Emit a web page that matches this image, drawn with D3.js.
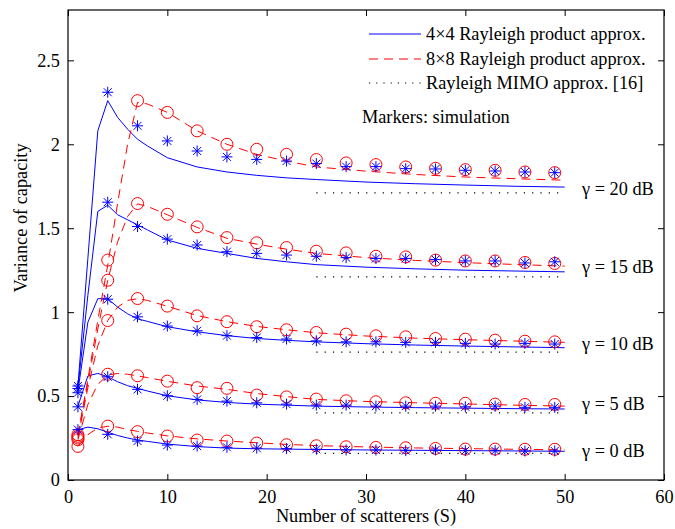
<!DOCTYPE html>
<html>
<head>
<meta charset="utf-8">
<script src="https://cdn.jsdelivr.net/npm/d3@7"></script>
<style>
  html, body { margin: 0; padding: 0; background: #fff; }
  svg { display: block; }
</style>
</head>
<body>
<svg id="chart" width="675" height="529"></svg>
<script>
// ---------------- data ----------------
const xTicks = [0, 10, 20, 30, 40, 50, 60];
const yTicks = [0, 0.5, 1, 1.5, 2, 2.5];
const yTickLabels = ["0", "0.5", "1", "1.5", "2", "2.5"];
const gammaLabels = ["γ = 0 dB", "γ = 5 dB", "γ = 10 dB", "γ = 15 dB", "γ = 20 dB"];

// S grid for analytic curves
const sLine = [1, 2, 3, 4, 5, 6, 7, 8, 10, 13, 16, 19, 22, 25, 30, 35, 40, 45, 50];
// 4x4 Rayleigh product approx (blue solid)
const blue0  = [0.30, 0.315, 0.305, 0.285, 0.265, 0.25, 0.238, 0.23, 0.214, 0.199, 0.19, 0.186, 0.184, 0.182, 0.179, 0.177, 0.175, 0.173, 0.171];
const blue5  = [0.44, 0.62, 0.635, 0.615, 0.585, 0.562, 0.546, 0.53, 0.502, 0.477, 0.462, 0.452, 0.446, 0.44, 0.435, 0.431, 0.428, 0.425, 0.423];
const blue10 = [0.53, 0.94, 1.08, 1.08, 1.03, 0.99, 0.96, 0.945, 0.913, 0.883, 0.86, 0.843, 0.832, 0.823, 0.812, 0.804, 0.798, 0.793, 0.788];
const blue15 = [0.55, 1.10, 1.60, 1.637, 1.58, 1.55, 1.52, 1.49, 1.43, 1.38, 1.35, 1.32, 1.30, 1.283, 1.268, 1.258, 1.25, 1.245, 1.24];
const blue20 = [0.56, 1.32, 2.08, 2.26, 2.16, 2.09, 2.03, 1.99, 1.92, 1.865, 1.835, 1.815, 1.80, 1.79, 1.775, 1.765, 1.757, 1.75, 1.745];
// 8x8 Rayleigh product approx (red dashed)
const red0  = [0.20, 0.27, 0.31, 0.32, 0.315, 0.30, 0.29, 0.28, 0.263, 0.245, 0.232, 0.222, 0.212, 0.205, 0.197, 0.191, 0.187, 0.183, 0.18];
const red5  = [0.24, 0.45, 0.57, 0.625, 0.635, 0.63, 0.62, 0.61, 0.588, 0.56, 0.54, 0.515, 0.497, 0.48, 0.468, 0.46, 0.453, 0.446, 0.44];
const red10 = [0.25, 0.55, 0.80, 0.95, 1.03, 1.07, 1.08, 1.07, 1.035, 0.98, 0.943, 0.915, 0.895, 0.877, 0.858, 0.845, 0.836, 0.828, 0.82];
const red15 = [0.26, 0.58, 0.90, 1.19, 1.42, 1.57, 1.645, 1.63, 1.58, 1.505, 1.44, 1.405, 1.375, 1.35, 1.325, 1.308, 1.295, 1.284, 1.274];
const red20 = [0.27, 0.60, 0.95, 1.28, 1.65, 2.00, 2.25, 2.24, 2.19, 2.08, 2.00, 1.94, 1.90, 1.865, 1.84, 1.82, 1.805, 1.795, 1.786];
// Rayleigh MIMO approx [16] (black dotted, S = 25..50)
const sMimo = [25, 50];
const mimoLevels = [0.159, 0.40, 0.762, 1.21, 1.71];

// simulation markers
const sMark = [1, 4, 7, 10, 13, 16, 19, 22, 25, 28, 31, 34, 37, 40, 43, 46, 49];
const star0  = [0.30, 0.272, 0.232, 0.208, 0.202, 0.195, 0.19, 0.187, 0.183, 0.179, 0.179, 0.175, 0.179, 0.175, 0.175, 0.173, 0.173];
const star5  = [0.436, 0.615, 0.54, 0.502, 0.48, 0.47, 0.46, 0.452, 0.446, 0.446, 0.44, 0.44, 0.44, 0.436, 0.44, 0.433, 0.433];
const star10 = [0.52, 1.077, 0.972, 0.917, 0.889, 0.86, 0.849, 0.84, 0.829, 0.823, 0.823, 0.82, 0.82, 0.814, 0.81, 0.814, 0.81];
const star15 = [0.545, 1.655, 1.51, 1.435, 1.40, 1.36, 1.35, 1.34, 1.333, 1.325, 1.32, 1.32, 1.313, 1.305, 1.305, 1.293, 1.30];
const star20 = [0.56, 2.31, 2.11, 2.02, 1.96, 1.925, 1.91, 1.90, 1.885, 1.867, 1.867, 1.855, 1.853, 1.845, 1.841, 1.835, 1.831];
const circ0  = [0.20, 0.321, 0.288, 0.262, 0.238, 0.232, 0.22, 0.21, 0.204, 0.198, 0.194, 0.192, 0.188, 0.184, 0.184, 0.183, 0.183];
const circ5  = [0.24, 0.63, 0.621, 0.589, 0.55, 0.546, 0.506, 0.495, 0.482, 0.472, 0.466, 0.46, 0.457, 0.457, 0.452, 0.45, 0.45];
const circ10 = [0.25, 0.95, 1.081, 1.036, 0.978, 0.943, 0.913, 0.895, 0.879, 0.869, 0.859, 0.853, 0.843, 0.839, 0.833, 0.827, 0.823];
const circ15 = [0.26, 1.19, 1.647, 1.583, 1.508, 1.444, 1.413, 1.385, 1.363, 1.353, 1.333, 1.329, 1.31, 1.305, 1.305, 1.296, 1.29];
const circ20 = [0.27, 1.31, 2.26, 2.19, 2.08, 2.00, 1.97, 1.94, 1.909, 1.889, 1.879, 1.865, 1.857, 1.849, 1.845, 1.835, 1.831];

const legendLabels = ["4×4 Rayleigh product approx.", "8×8 Rayleigh product approx.", "Rayleigh MIMO approx. [16]"];
const noteText = "Markers: simulation";
const xTitle = "Number of scatterers (S)";
const yTitle = "Variance of capacity";

// ---------------- drawing ----------------
const svg = d3.select("#chart");
const L = 68, R = 664, T = 10, B = 480;
const x = d3.scaleLinear().domain([0, 60]).range([L, R]);
const y = d3.scaleLinear().domain([0, 2.8]).range([B, T]);
const FS = 18.3;
const FONT = "'Liberation Serif'";

const blueSets = [blue0, blue5, blue10, blue15, blue20];
const redSets = [red0, red5, red10, red15, red20];
const starSets = [star0, star5, star10, star15, star20];
const circSets = [circ0, circ5, circ10, circ15, circ20];

const line = d3.line().x(d => x(d[0])).y(d => y(d[1]));

const gPlot = svg.append("g");
blueSets.forEach(vals => {
  gPlot.append("path").attr("d", line(sLine.map((s, i) => [s, vals[i]])))
    .attr("fill", "none").attr("stroke", "#0000ff").attr("stroke-width", 1);
});
redSets.forEach(vals => {
  gPlot.append("path").attr("d", line(sLine.map((s, i) => [s, vals[i]])))
    .attr("fill", "none").attr("stroke", "#ff0000").attr("stroke-width", 1)
    .attr("stroke-dasharray", "9,6");
});
mimoLevels.forEach(v => {
  gPlot.append("path").attr("d", line(sMimo.map(s => [s, v])))
    .attr("fill", "none").attr("stroke", "#000").attr("stroke-width", 1.2)
    .attr("stroke-dasharray", "1.2,7.1");
});
circSets.forEach(vals => {
  gPlot.selectAll(null).data(sMark.map((s, i) => [s, vals[i]])).enter()
    .append("circle").attr("cx", d => x(d[0])).attr("cy", d => y(d[1])).attr("r", 6)
    .attr("fill", "none").attr("stroke", "#ff0000").attr("stroke-width", 1);
});
const starPath = (cx, cy) => {
  const r = 5.5, q = 4;
  return `M${cx - r},${cy}L${cx + r},${cy}M${cx},${cy - r}L${cx},${cy + r}` +
         `M${cx - q},${cy - q}L${cx + q},${cy + q}M${cx - q},${cy + q}L${cx + q},${cy - q}`;
};
starSets.forEach(vals => {
  gPlot.selectAll(null).data(sMark.map((s, i) => [s, vals[i]])).enter()
    .append("path").attr("d", d => starPath(x(d[0]), y(d[1])))
    .attr("fill", "none").attr("stroke", "#0000ff").attr("stroke-width", 1);
});

// axes with inward ticks on all sides
const tickLen = 6;
const axB = svg.append("g").attr("transform", `translate(0,${B})`)
  .call(d3.axisBottom(x).tickValues(xTicks).tickSize(-tickLen).tickPadding(10).tickFormat(d3.format("d")));
const axT = svg.append("g").attr("transform", `translate(0,${T})`)
  .call(d3.axisTop(x).tickValues(xTicks).tickSize(-tickLen).tickFormat(""));
const axL = svg.append("g").attr("transform", `translate(${L},0)`)
  .call(d3.axisLeft(y).tickValues(yTicks).tickSize(-tickLen).tickPadding(8).tickFormat((d, i) => yTickLabels[i]));
const axR = svg.append("g").attr("transform", `translate(${R},0)`)
  .call(d3.axisRight(y).tickValues(yTicks).tickSize(-tickLen).tickFormat(""));
[axB, axT, axL, axR].forEach(a => {
  a.select(".domain").remove();
  a.selectAll(".tick line").attr("stroke", "#000").attr("stroke-width", 1);
  a.selectAll("text").attr("font-size", FS).style("font-family", FONT).attr("fill", "#000");
});
svg.append("rect").attr("x", L).attr("y", T).attr("width", R - L).attr("height", B - T)
  .attr("fill", "none").attr("stroke", "#000").attr("stroke-width", 1.2);

// axis titles
svg.append("text").attr("x", (L + R) / 2).attr("y", 522).attr("text-anchor", "middle")
  .attr("font-size", FS).style("font-family", FONT).text(xTitle);
svg.append("text").attr("transform", `translate(27,${(T + B) / 2 - 27}) rotate(-90)`)
  .attr("text-anchor", "middle").attr("font-size", FS).style("font-family", FONT).text(yTitle);

// gamma labels
const gammaY = [451, 404, 344, 267, 189];
gammaLabels.forEach((t, i) => {
  svg.append("text").attr("x", 582).attr("y", gammaY[i]).attr("dy", "0.35em")
    .attr("font-size", FS).style("font-family", FONT).text(t);
});

// legend
const legRows = [34, 59, 83];
const legStyles = [
  { stroke: "#0000ff", dash: null, w: 1 },
  { stroke: "#ff0000", dash: "9,6", w: 1 },
  { stroke: "#000", dash: "1.2,6", w: 1.2 }
];
legendLabels.forEach((t, i) => {
  const ln = svg.append("line").attr("x1", 369).attr("x2", 421).attr("y1", legRows[i]).attr("y2", legRows[i])
    .attr("stroke", legStyles[i].stroke).attr("stroke-width", legStyles[i].w);
  if (legStyles[i].dash) ln.attr("stroke-dasharray", legStyles[i].dash);
  svg.append("text").attr("x", 426).attr("y", legRows[i]).attr("dy", "0.35em")
    .attr("font-size", FS).style("font-family", FONT).text(t);
});
svg.append("text").attr("x", 362).attr("y", 117).attr("dy", "0.35em")
  .attr("font-size", FS).style("font-family", FONT).text(noteText);
</script>
</body>
</html>
